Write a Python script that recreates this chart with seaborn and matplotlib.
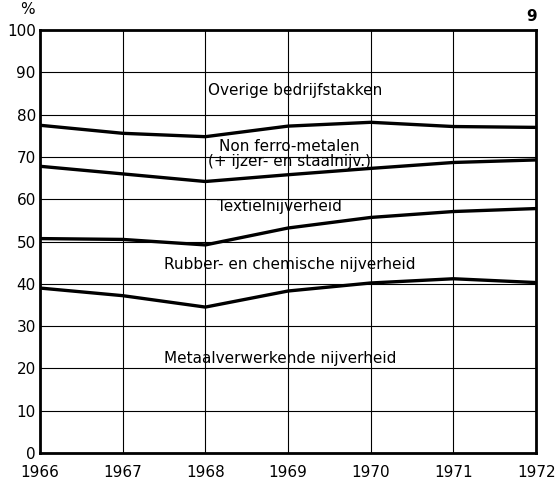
import pandas as pd
import matplotlib
matplotlib.use("Agg")
import matplotlib.pyplot as plt
import seaborn as sns

# Jaren en grenslijnen (cumulatief aandeel in %)
jaren = [1966, 1967, 1968, 1969, 1970, 1971, 1972]
grens_overige = [77.5, 75.6, 74.8, 77.3, 78.2, 77.2, 77.0]
grens_nonferro = [67.8, 66.0, 64.2, 65.8, 67.3, 68.7, 69.3]
grens_textiel = [50.7, 50.5, 49.2, 53.2, 55.7, 57.1, 57.8]
grens_rubber = [39.0, 37.2, 34.5, 38.3, 40.2, 41.2, 40.3]

# Labels van de sectoren
sectoren = [
    "Overige bedrijfstakken",
    "Non ferro-metalen\n(+ ijzer- en staalnijv.)",
    "Textielnijverheid",
    "Rubber- en chemische nijverheid",
    "Metaalverwerkende nijverheid",
]
label_x = [1969.08, 1969.02, 1968.9, 1969.02, 1968.9]
label_y = [85.8, 70.8, 58.2, 44.6, 22.4]

df = pd.DataFrame({
    "jaar": jaren * 4,
    "waarde": grens_overige + grens_nonferro + grens_textiel + grens_rubber,
    "grens": (["overige"] * 7 + ["nonferro"] * 7
              + ["textiel"] * 7 + ["rubber"] * 7),
})

sns.set_style("white")
plt.rcParams["font.family"] = ["DejaVu Sans"]
plt.rcParams["text.color"] = "black"

fig = plt.figure(figsize=(5.55, 4.86), dpi=100)
ax = fig.add_axes([0.072, 0.068, 0.894, 0.87])

sns.lineplot(data=df, x="jaar", y="waarde", hue="grens",
             palette=["black"] * 4, linewidth=2.4, legend=False, ax=ax)

ax.set_xlim(1966, 1972)
ax.set_ylim(0, 100)
ax.set_xticks(jaren)
ax.set_yticks(range(0, 101, 10))
ax.grid(True, color="black", linewidth=0.8)
ax.tick_params(length=0, labelsize=11, colors="black")
ax.tick_params(axis="x", pad=9)
ax.tick_params(axis="y", pad=3)
for s in ax.spines.values():
    s.set_color("black")
    s.set_linewidth(2)
ax.set_xlabel("")
ax.set_ylabel("")

for tekst, x, y in zip(sectoren, label_x, label_y):
    ax.text(x, y, tekst, ha="center", va="center", fontsize=11,
            color="black", linespacing=1.0)

fig.text(0.05, 0.995, "%", ha="center", va="top", fontsize=11, color="black")
fig.text(0.958, 0.982, "9", ha="center", va="top", fontsize=11,
         fontweight="bold", color="black")

fig.savefig("out.png", dpi=100)
plt.close(fig)
